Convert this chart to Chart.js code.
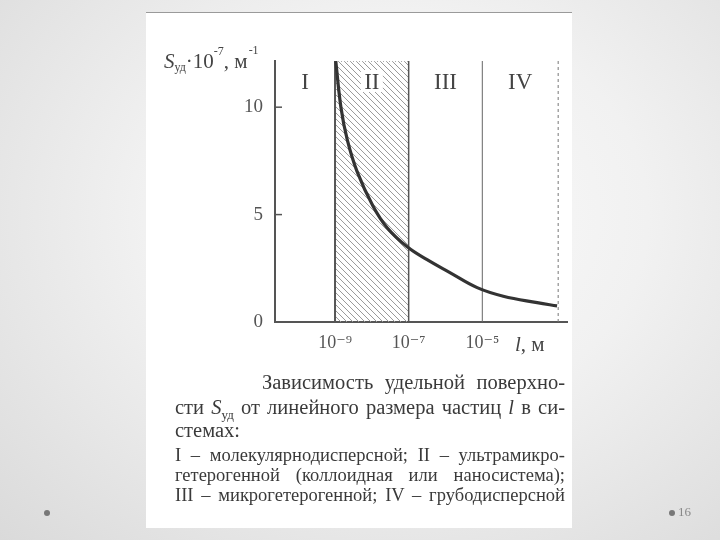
<!DOCTYPE html>
<html>
<head>
<meta charset="utf-8">
<script src="https://cdn.jsdelivr.net/npm/chart.js@4.4.0/dist/chart.umd.min.js"></script>
<style>
  html, body { margin: 0; padding: 0; width: 720px; height: 540px; overflow: hidden; }
  body {
    position: relative;
    background: radial-gradient(ellipse at 55% 40%, #fbfbfb 0%, #f1f1f1 45%, #dadada 100%);
    font-family: "Liberation Serif", "DejaVu Serif", serif;
  }
  #panel { position: absolute; left: 146px; top: 12px; width: 426px; height: 515px; background: #fff; border-top: 1px solid #9a9a9a; }
  #chart { position: absolute; left: 0; top: 0; }
  .cap { position: absolute; left: 175px; width: 390px; color: #3a3a3a; white-space: nowrap; text-align: justify; text-align-last: justify; }
  .big { font-size: 20.5px; line-height: 23px; }
  .small { font-size: 18.5px; line-height: 20px; }
  .dot { position: absolute; width: 6px; height: 6px; border-radius: 3px; background: #777; }
  #page { position: absolute; left: 678px; top: 504px; font-size: 13px; color: #888; }
</style>
</head>
<body>
<div id="panel"></div>
<canvas id="chart" width="720" height="540"></canvas>

<div class="cap big" style="top:371px; left:262px; width:303px;">Зависимость удельной поверхно-</div>
<div class="cap big" style="top:396px;">сти <i>S</i><sub style="font-size:13px">уд</sub> от линейного размера частиц <i>l</i> в си-</div>
<div class="cap big" style="top:419px; text-align-last:left;">стемах:</div>
<div class="cap small" style="top:445px;">I – молекулярнодисперсной; II – ультрамикро-</div>
<div class="cap small" style="top:465px;">гетерогенной (коллоидная или наносистема);</div>
<div class="cap small" style="top:485px;">III – микрогетерогенной; IV – грубодисперсной</div>

<div class="dot" style="left:44px; top:510px;"></div>
<div class="dot" style="left:669px; top:510px;"></div>
<div id="page">16</div>

<script>
// particle size l, as log10 of metres
const lengthExp = [-8.98, -8.84, -8.67, -8.40, -7.97, -7.59, -7.04, -6.50, -5.88, -5.14, -4.43, -3.51, -2.97];
// specific surface S_уд, units of 10^7 m^-1
const surfaceArea = [12.15, 10.0, 8.5, 7.0, 5.4, 4.4, 3.5, 2.9, 2.3, 1.6, 1.2, 0.9, 0.75];

const yTicks = [0, 5, 10];
const xTickExp = [-9, -7, -5];
const xTickLabels = ["10⁻⁹", "10⁻⁷", "10⁻⁵"];
const xRangeExp = [-10.63, -2.7];
const yRange = [0, 12.15];

// borders between the systems I..IV
const boundaryExp = [-9, -7, -5, -2.94];
const regionLabels = ["I", "II", "III", "IV"];

const serif = '"Liberation Serif", "DejaVu Serif", serif';
const ink = "#444";

function drawParts(ctx, parts, x, base) {
  parts.forEach((p) => {
    ctx.font = p.font;
    ctx.fillText(p.t, x + (p.dx || 0), base + (p.dy || 0));
    x += ctx.measureText(p.t).width + (p.dx || 0);
  });
}

const regions = {
  id: "regions",
  beforeDatasetsDraw(chart) {
    const { ctx, scales: { x, y } } = chart;
    const top = y.getPixelForValue(yRange[1]);
    const bottom = y.getPixelForValue(0);
    const bx = boundaryExp.map((e) => x.getPixelForValue(Math.pow(10, e)));

    // hatched area II
    ctx.save();
    ctx.beginPath();
    ctx.rect(bx[0], top, bx[1] - bx[0], bottom - top);
    ctx.clip();
    ctx.strokeStyle = "#999";
    ctx.lineWidth = 1;
    const h = bottom - top;
    for (let k = -h; k < bx[1] - bx[0]; k += 6) {
      ctx.beginPath();
      ctx.moveTo(bx[0] + k, top);
      ctx.lineTo(bx[0] + k + h, bottom);
      ctx.stroke();
    }
    // clear patch behind the "II" label
    const mid = x.getPixelForValue(Math.pow(10, (boundaryExp[0] + boundaryExp[1]) / 2));
    ctx.fillStyle = "#fff";
    ctx.fillRect(mid - 11, 70, 22, 22);
    ctx.restore();

    ctx.save();
    ctx.strokeStyle = "#555";
    ctx.lineWidth = 2;
    ctx.beginPath();
    ctx.moveTo(bx[0], top); ctx.lineTo(bx[0], bottom);
    ctx.stroke();
    ctx.lineWidth = 1.5;
    ctx.beginPath();
    ctx.moveTo(bx[1], top); ctx.lineTo(bx[1], bottom);
    ctx.stroke();
    ctx.strokeStyle = "#666";
    ctx.lineWidth = 1;
    ctx.beginPath();
    ctx.moveTo(bx[2], top); ctx.lineTo(bx[2], bottom);
    ctx.stroke();
    ctx.strokeStyle = "#777";
    ctx.setLineDash([3, 3]);
    ctx.beginPath();
    ctx.moveTo(bx[3], top); ctx.lineTo(bx[3], bottom);
    ctx.stroke();
    ctx.setLineDash([1, 2]);
    ctx.strokeStyle = "#aaa";
    ctx.beginPath();
    ctx.moveTo(bx[0], top + 0.5); ctx.lineTo(bx[1], top + 0.5);
    ctx.stroke();
    ctx.restore();
  },
  afterDraw(chart) {
    const { ctx, scales: { x, y } } = chart;
    const ax = x.left;
    ctx.save();
    // inner tick marks on y
    ctx.strokeStyle = "#555";
    ctx.lineWidth = 1.5;
    yTicks.slice(1).forEach((v) => {
      const py = y.getPixelForValue(v);
      ctx.beginPath();
      ctx.moveTo(ax, py); ctx.lineTo(ax + 7, py);
      ctx.stroke();
    });

    // region names, centred in each band
    const edges = [xRangeExp[0]].concat(boundaryExp);
    ctx.fillStyle = ink;
    ctx.font = "23px " + serif;
    ctx.textAlign = "center";
    ctx.textBaseline = "alphabetic";
    regionLabels.forEach((t, i) => {
      const mid = (edges[i] + edges[i + 1]) / 2;
      ctx.fillText(t, x.getPixelForValue(Math.pow(10, mid)), 89);
    });

    // axis titles
    ctx.textAlign = "left";
    drawParts(ctx, [
      { t: "S", font: "italic 21px " + serif },
      { t: "уд", font: "12px " + serif, dy: 3 },
      { t: "·10", font: "21px " + serif },
      { t: "-7", font: "12px " + serif, dy: -13 },
      { t: ", м", font: "21px " + serif },
      { t: "-1", font: "12px " + serif, dy: -14, dx: 1 },
    ], 164, 68);
    drawParts(ctx, [
      { t: "l", font: "italic 21px " + serif },
      { t: ", м", font: "21px " + serif },
    ], 515, 351);
    ctx.restore();
  },
};

new Chart(document.getElementById("chart"), {
  type: "line",
  data: {
    datasets: [{
      data: lengthExp.map((e, i) => ({ x: Math.pow(10, e), y: surfaceArea[i] })),
      borderColor: "#333",
      borderWidth: 3.2,
      pointRadius: 0,
      tension: 0.4,
      fill: false,
    }],
  },
  options: {
    responsive: false,
    animation: false,
    devicePixelRatio: 1,
    layout: { padding: { left: 0, top: 61, right: 153, bottom: 0 } },
    plugins: { legend: { display: false }, tooltip: { enabled: false } },
    scales: {
      x: {
        type: "logarithmic",
        min: Math.pow(10, xRangeExp[0]),
        max: Math.pow(10, xRangeExp[1]),
        afterBuildTicks: (s) => { s.ticks = xTickExp.map((e) => ({ value: Math.pow(10, e) })); },
        afterFit: (s) => { s.height = 218; },
        grid: { display: false, drawTicks: false },
        border: { display: true, color: "#555", width: 2 },
        ticks: {
          autoSkip: false,
          maxRotation: 0,
          padding: 10,
          color: "#555",
          font: { family: serif, size: 18 },
          callback: (v, i) => xTickLabels[i],
        },
      },
      y: {
        min: yRange[0],
        max: yRange[1],
        afterBuildTicks: (s) => { s.ticks = yTicks.map((v) => ({ value: v })); },
        afterFit: (s) => { s.width = 275; },
        grid: { display: false, drawTicks: false },
        border: { display: true, color: "#555", width: 2 },
        ticks: {
          padding: 12,
          color: "#555",
          font: { family: serif, size: 19 },
        },
      },
    },
  },
  plugins: [regions],
});
</script>
</body>
</html>
